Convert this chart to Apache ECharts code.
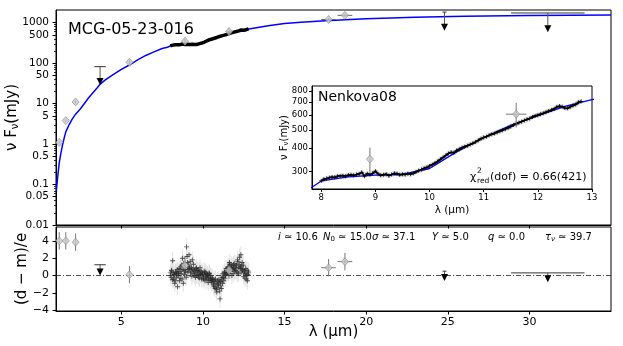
<!DOCTYPE html>
<html>
<head>
<meta charset="utf-8">
<script src="https://cdn.jsdelivr.net/npm/echarts@6/dist/echarts.min.js"></script>
<style>html,body{margin:0;background:#fff}#c{width:623px;height:346px}</style>
</head>
<body>
<div id="c"></div>
<script>
// model SED (blue line), lambda in micron, nuFnu in mJy
var modelX = [1.02,1.1,1.2,1.3,1.4,1.5,1.6,1.8,2.0,2.2,2.5,3.0,3.5,3.7,4.0,4.5,5.0,5.5,6.0,6.5,7.0,7.5,7.83,8.0,8.5,9.0,9.5,10.0,10.5,11.0,11.5,12.0,12.5,13.0,14,15,16,17.5,20,23,26,30,35];
var modelY = [0.07,0.15,0.35,0.6,0.95,1.4,2.0,3.0,4.2,5.5,7.5,14,24,30,38,52,70,90,120,155,190,230,248,268,282,288,290,312,382,455,528,595,666,722,840,950,1030,1120,1250,1370,1440,1510,1560];

// IRS spectrum
var specX = [8.00,8.05,8.10,8.15,8.20,8.25,8.30,8.35,8.40,8.45,8.50,8.55,8.60,8.65,8.70,8.75,8.80,8.85,8.90,8.95,
  9.00,9.05,9.10,9.15,9.20,9.25,9.30,9.35,9.40,9.45,9.50,9.55,9.60,9.65,9.70,9.75,9.80,9.85,9.90,9.95,
  10.00,10.05,10.10,10.15,10.20,10.25,10.30,10.35,10.40,10.45,10.50,10.55,10.60,10.65,10.70,10.75,10.80,10.85,10.90,10.95,
  11.00,11.05,11.10,11.15,11.20,11.25,11.30,11.35,11.40,11.45,11.50,11.55,11.60,11.65,11.70,11.75,11.80,11.85,11.90,11.95,
  12.00,12.05,12.10,12.15,12.20,12.25,12.30,12.35,12.40,12.45,12.50,12.55,12.60,12.65,12.70,12.75,12.80];
var specY = [268,274,276,279,281,280,284,285,286,284,288,289,287,290,292,298,284,293,290,294,
  302,292,287,289,291,286,290,294,293,289,291,290,293,291,294,299,304,308,313,316,
  322,327,333,340,349,357,366,375,380,378,388,395,402,407,412,418,424,431,440,448,
  455,460,468,474,478,486,492,498,505,512,520,530,538,545,552,560,568,574,585,592,
  598,605,612,620,628,636,645,660,668,662,652,650,662,672,680,700,708];

// residuals of the spectrum, two interleaved sets
var resYA = [0.3,-0.2,0.5,1.7,-0.4,0.1,-0.6,0.2,0.4,-1.3,
  0.2,0.8,-0.3,0.5,1.2,2.0,-0.9,0.6,1.1,0.4,
  3.3,1.5,0.7,2.4,1.0,0.3,0.9,1.8,0.2,0.6,
  0.5,-0.2,0.9,0.4,0.1,0.6,-0.3,0.2,0.5,0.0,
  0.1,-0.4,0.3,-0.1,0.2,-0.5,0.0,-0.3,0.2,-0.6,
  -0.2,-0.8,-0.5,-1.2,-0.7,-1.5,-0.9,-1.9,-0.6,-1.1,
  -0.8,-2.7,-1.2,-0.4,-0.9,-0.2,0.3,-0.3,0.1,0.6,
  0.4,1.0,0.7,1.3,0.5,0.9,1.1,0.2,0.8,1.4,
  0.6,1.2,0.3,1.6,0.9,2.1,1.0,0.4,1.5,0.7,
  -0.1,0.5,0.2,-0.4,0.6,0.1,0.3];
var resXB = [8.025,8.075,8.125,8.175,8.225,8.275,8.325,8.375,8.425,8.475,
  8.525,8.575,8.625,8.675,8.725,8.775,8.825,8.875,8.925,8.975,
  9.025,9.075,9.125,9.175,9.225,9.275,9.325,9.375,9.425,9.475,
  9.525,9.575,9.625,9.675,9.725,9.775,9.825,9.875,9.925,9.975,
  10.025,10.075,10.125,10.175,10.225,10.275,10.325,10.375,10.425,10.475,
  10.525,10.575,10.625,10.675,10.725,10.775,10.825,10.875,10.925,10.975,
  11.025,11.075,11.125,11.175,11.225,11.275,11.325,11.375,11.425,11.475,
  11.525,11.575,11.625,11.675,11.725,11.775,11.825,11.875,11.925,11.975,
  12.025,12.075,12.125,12.175,12.225,12.275,12.325,12.375,12.425,12.475,
  12.525,12.575,12.625,12.675,12.725,12.775];
var resYB = [0.0,0.6,-0.5,0.3,0.1,-0.9,0.4,-0.2,0.7,0.0,
  0.4,-0.6,1.0,0.2,-0.4,0.7,1.4,0.1,0.9,-0.2,
  2.2,0.4,1.2,0.8,1.6,0.5,-0.1,0.7,1.3,0.0,
  0.3,0.8,0.0,0.6,-0.2,0.4,0.9,0.1,-0.4,0.3,
  -0.3,0.5,-0.6,0.4,-0.2,0.1,-0.8,0.3,-0.4,0.0,
  -0.6,-0.3,-1.0,-0.5,-1.3,-0.4,-1.6,-1.0,-1.4,-0.5,
  -1.8,-0.7,-1.5,-0.2,0.2,-0.6,0.4,0.0,0.8,0.3,
  0.9,0.2,1.5,0.6,1.2,0.0,0.7,1.3,0.5,0.9,
  1.1,0.5,1.8,0.2,1.3,0.8,2.4,1.1,0.6,1.2,
  0.3,-0.3,0.8,0.0,-0.6,0.5];

// photometry (grey diamonds)
var phX = [1.2,1.6,2.2,5.5,8.9,11.6,17.7,18.7];
var phY = [1.1,3.8,11,105,350,605,1200,1520];
var phYerr = [0.1,0.3,0.9,18,52,90,110,140];
var phXerr = [0,0,0,0,0,0.19,0.45,0.45];
var resPhY = [4.0,4.0,3.85,0.1,1.15,0.6,0.9,1.6];

// upper limits
var ulX = [3.7,24.8,31.13];
var ulTop = [82,1830,1740];
var ulTip = [29,630,580];
var ulXerr = [0.35,0.12,2.25];
var resUlTop = [1.24,0.5,0.3];
var resUlTip = [0.0,-0.65,-0.77];

// ticks
var xTicks = [5,10,15,20,25,30];
var mainTicks = [0.01,0.05,0.1,0.5,1,5,10,50,100,500,1000];
var mainTickLabels = ['0.01','0.05','0.1','0.5','1','5','10','50','100','500','1000'];
var resTicks = [-4,-2,0,2,4];
var insetXTicks = [8,9,10,11,12,13];
var insetYTicks = [300,400,500,600,700,800];

var lg = Math.log10;
var FONT = 'DejaVu Sans';
var plusSym = 'path://M-1,-0.18H1V0.18H-1Z M-0.18,-1H0.18V1H-0.18Z';

var minorTicks = [];
[0.01,0.1,1,10,100,1000].forEach(function(d) {
  [2,3,4,6,7,8,9].forEach(function(k) { if (k * d < 2000) minorTicks.push(lg(k * d)); });
});

function line(a, b, color, w) {
  return { type: 'line', shape: { x1: a[0], y1: a[1], x2: b[0], y2: b[1] }, style: { stroke: color, lineWidth: w } };
}
// item: [x, y, xlo, xhi, ylo, yhi]
function errRender(color, w) {
  return function(params, api) {
    var x = api.value(0), y = api.value(1);
    var ch = [];
    if (api.value(4) !== api.value(5)) ch.push(line(api.coord([x, api.value(4)]), api.coord([x, api.value(5)]), color, w));
    if (api.value(2) !== api.value(3)) ch.push(line(api.coord([api.value(2), y]), api.coord([api.value(3), y]), color, w));
    return { type: 'group', children: ch };
  };
}
// item: [x, top, tip, xerr]
function ulRender(params, api) {
  var x = api.value(0), e = api.value(3);
  var top = api.coord([x, api.value(1)]), tip = api.coord([x, api.value(2)]);
  var l = api.coord([x - e, api.value(1)]), r = api.coord([x + e, api.value(1)]);
  return { type: 'group', children: [
    line(top, [tip[0], tip[1] - 6], '#555', 1),
    line(l, r, '#333', 1),
    { type: 'polygon', shape: { points: [[tip[0] - 3.5, tip[1] - 7], [tip[0] + 3.5, tip[1] - 7], [tip[0], tip[1]]] }, style: { fill: '#000' } }
  ] };
}

var mainErr = phX.map(function(x, i) {
  return [x, lg(phY[i]), x - phXerr[i], x + phXerr[i], lg(phY[i] - phYerr[i]), lg(phY[i] + phYerr[i])];
});
var resErr = phX.map(function(x, i) {
  return [x, resPhY[i], x - phXerr[i], x + phXerr[i], resPhY[i] - 1, resPhY[i] + 1];
});
var insetIdx = [4, 5];
var insetErr = insetIdx.map(function(i) {
  return [phX[i], lg(phY[i]), phX[i] - phXerr[i], phX[i] + phXerr[i], lg(phY[i] - phYerr[i]), lg(phY[i] + phYerr[i])];
});
var specErrA = specX.map(function(x, i) { return [x, resYA[i], x, x, resYA[i] - 1, resYA[i] + 1]; });
var specErrB = resXB.map(function(x, i) { return [x, resYB[i], x, x, resYB[i] - 1, resYB[i] + 1]; });

var modelLog = modelX.map(function(x, i) { return [x, lg(modelY[i])]; });
var specLog = specX.map(function(x, i) { return [x, lg(specY[i])]; });

var axisBase = {
  axisLine: { onZero: false, lineStyle: { color: '#000', width: 1 } },
  splitLine: { show: false },
  axisTick: { lineStyle: { color: '#000' } },
  nameMoveOverlap: false
};
function ax(o) { return Object.assign({}, JSON.parse(JSON.stringify(axisBase)), o); }

var chart = echarts.init(document.getElementById('c'));
chart.setOption({
  animation: false,
  backgroundColor: '#fff',
  textStyle: { fontFamily: FONT },
  grid: [
    { left: 56, top: 10, width: 555, height: 215, show: true, borderColor: '#000', borderWidth: 1,
      backgroundColor: 'transparent', containLabel: false, outerBoundsMode: 'none' },
    { left: 56, top: 227, width: 555, height: 84, show: true, borderColor: '#000', borderWidth: 1,
      backgroundColor: 'transparent', containLabel: false, outerBoundsMode: 'none' },
    { left: 312, top: 86, width: 280, height: 103, show: true, borderColor: '#000', borderWidth: 1,
      backgroundColor: '#fff', z: 4, containLabel: false, outerBoundsMode: 'none' }
  ],
  xAxis: [
    ax({ gridIndex: 0, type: 'value', min: 1, max: 35,
      axisTick: { customValues: xTicks, length: 3.5, lineStyle: { color: '#000' } },
      axisLabel: { show: false } }),
    ax({ gridIndex: 1, type: 'value', min: 1, max: 35,
      axisTick: { customValues: xTicks, length: 3.5, lineStyle: { color: '#000' } },
      axisLabel: { customValues: xTicks, fontSize: 11, color: '#000', margin: 6, fontFamily: FONT },
      name: 'λ (μm)', nameLocation: 'middle', nameGap: 14,
      nameTextStyle: { fontSize: 15, color: '#000', fontFamily: FONT, verticalAlign: 'top' } }),
    ax({ gridIndex: 2, type: 'value', min: 7.83, max: 13, z: 5,
      axisTick: { customValues: insetXTicks, length: 3, lineStyle: { color: '#000' } },
      axisLabel: { customValues: insetXTicks, fontSize: 8.5, color: '#000', margin: 4, fontFamily: FONT },
      name: 'λ (μm)', nameLocation: 'middle', nameGap: 16,
      nameTextStyle: { fontSize: 10.5, color: '#000', fontFamily: FONT, verticalAlign: 'top' } })
  ],
  yAxis: [
    ax({ gridIndex: 0, type: 'value', min: -2, max: 3.314, position: 'left',
      axisTick: { customValues: mainTicks.map(lg), length: 3.5, lineStyle: { color: '#000' } },
      axisLabel: { customValues: mainTicks.map(lg), fontSize: 10.5, color: '#000', margin: 7, fontFamily: FONT,
        formatter: function(v) {
          var best = 0;
          mainTicks.forEach(function(t, i) { if (Math.abs(lg(t) - v) < Math.abs(lg(mainTicks[best]) - v)) best = i; });
          return mainTickLabels[best];
        } },
      name: 'ν F{s|ν}(mJy)', nameLocation: 'middle', nameGap: 36,
      nameTextStyle: { fontSize: 15, color: '#000', fontFamily: FONT,
        rich: { s: { fontSize: 10, fontFamily: FONT, color: '#000', padding: [6, 0, 0, 0] } } } }),
    ax({ gridIndex: 0, type: 'value', min: -2, max: 3.314, position: 'left', offset: 0,
      axisLine: { show: false },
      axisTick: { customValues: minorTicks, length: 2, lineStyle: { color: '#000', width: 0.8 } },
      axisLabel: { show: false } }),
    ax({ gridIndex: 1, type: 'value', min: -4.1, max: 5.6,
      axisTick: { customValues: resTicks, length: 3.5, lineStyle: { color: '#000' } },
      axisLabel: { customValues: resTicks, fontSize: 11, color: '#000', margin: 7, fontFamily: FONT,
        formatter: function(v) { return v < 0 ? '\u2212' + Math.abs(v) : String(v); } },
      name: '(d \u2212 m)/e', nameLocation: 'middle', nameGap: 26,
      nameTextStyle: { fontSize: 15, color: '#000', fontFamily: FONT } }),
    ax({ gridIndex: 2, type: 'value', min: lg(243), max: lg(853), z: 5,
      axisTick: { customValues: insetYTicks.map(lg), length: 3, lineStyle: { color: '#000' } },
      axisLabel: { customValues: insetYTicks.map(lg), fontSize: 8.5, color: '#000', margin: 4, fontFamily: FONT,
        formatter: function(v) { return String(Math.round(Math.pow(10, v) / 100) * 100); } },
      name: 'ν F{s|ν}(mJy)', nameLocation: 'middle', nameGap: 22,
      nameTextStyle: { fontSize: 10, color: '#000', fontFamily: FONT,
        rich: { s: { fontSize: 7, fontFamily: FONT, color: '#000', padding: [4, 0, 0, 0] } } } })
  ],
  series: [
    // main panel
    { type: 'line', xAxisIndex: 0, yAxisIndex: 0, data: modelLog, showSymbol: false, symbol: 'none',
      lineStyle: { color: '#0000ff', width: 1.5 }, z: 2 },
    { type: 'line', xAxisIndex: 0, yAxisIndex: 0, data: specLog, symbol: 'none',
      lineStyle: { color: '#000', width: 3.5 }, z: 3 },
    { type: 'custom', xAxisIndex: 0, yAxisIndex: 0, data: mainErr, renderItem: errRender('#666', 1),
      encode: { x: 0, y: 1 }, z: 3 },
    { type: 'scatter', xAxisIndex: 0, yAxisIndex: 0, data: mainErr.map(function(d) { return [d[0], d[1]]; }),
      symbol: 'diamond', symbolSize: [7, 8], itemStyle: { color: '#c8c8c8', borderColor: '#8a8a8a', borderWidth: 0.8 }, z: 4 },
    { type: 'custom', xAxisIndex: 0, yAxisIndex: 0,
      data: ulX.map(function(x, i) { return [x, lg(ulTop[i]), lg(ulTip[i]), ulXerr[i]]; }),
      renderItem: ulRender, encode: { x: 0, y: 1 }, z: 4 },

    // residual panel
    { type: 'line', xAxisIndex: 1, yAxisIndex: 2, data: [[1, 0], [35, 0]], symbol: 'none',
      lineStyle: { color: '#222', width: 0.8, type: [5, 2, 1, 2] }, z: 2 },
    { type: 'custom', xAxisIndex: 1, yAxisIndex: 2, data: specErrA.concat(specErrB), renderItem: errRender('#e3e3e3', 1),
      encode: { x: 0, y: 1 }, z: 1 },
    { type: 'scatter', xAxisIndex: 1, yAxisIndex: 2,
      data: specX.map(function(x, i) { return [x, resYA[i]]; }).concat(resXB.map(function(x, i) { return [x, resYB[i]]; })),
      symbol: plusSym, symbolSize: 5, itemStyle: { color: '#222' }, z: 3 },
    { type: 'custom', xAxisIndex: 1, yAxisIndex: 2, data: resErr, renderItem: errRender('#777', 1),
      encode: { x: 0, y: 1 }, z: 3 },
    { type: 'scatter', xAxisIndex: 1, yAxisIndex: 2, data: resErr.map(function(d) { return [d[0], d[1]]; }),
      symbol: 'diamond', symbolSize: [7, 8], itemStyle: { color: '#c8c8c8', borderColor: '#8a8a8a', borderWidth: 0.8 }, z: 4 },
    { type: 'custom', xAxisIndex: 1, yAxisIndex: 2,
      data: ulX.map(function(x, i) { return [x, resUlTop[i], resUlTip[i], ulXerr[i]]; }),
      renderItem: ulRender, encode: { x: 0, y: 1 }, z: 4 },

    // inset
    { type: 'line', xAxisIndex: 2, yAxisIndex: 3, data: specLog, symbol: 'none',
      lineStyle: { color: '#dedede', width: 5 }, z: 6 },
    { type: 'line', xAxisIndex: 2, yAxisIndex: 3, data: modelLog, symbol: 'none', clip: true,
      lineStyle: { color: '#0000ff', width: 1.3 }, z: 7 },
    { type: 'line', xAxisIndex: 2, yAxisIndex: 3, data: specLog, symbol: plusSym, symbolSize: 4, showSymbol: true,
      itemStyle: { color: '#000' }, lineStyle: { color: '#000', width: 1.8 }, z: 8 },
    { type: 'custom', xAxisIndex: 2, yAxisIndex: 3, data: insetErr, renderItem: errRender('#777', 1),
      encode: { x: 0, y: 1 }, z: 9 },
    { type: 'scatter', xAxisIndex: 2, yAxisIndex: 3, data: insetErr.map(function(d) { return [d[0], d[1]]; }),
      symbol: 'diamond', symbolSize: [7, 8], itemStyle: { color: '#c8c8c8', borderColor: '#8a8a8a', borderWidth: 0.8 }, z: 10 }
  ],
  graphic: [
    { type: 'text', z: 20, style: { x: 68, y: 30, text: 'MCG-05-23-016', fontSize: 16, fontFamily: FONT, fill: '#000', verticalAlign: 'middle' } },
    { type: 'text', z: 20, style: { x: 318, y: 97, text: 'Nenkova08', fontSize: 14, fontFamily: FONT, fill: '#000', verticalAlign: 'middle' } },
    { type: 'text', z: 20, style: { x: 470, y: 177, text: 'χ', fontSize: 11, fontFamily: FONT, fill: '#000', verticalAlign: 'middle' } },
    { type: 'text', z: 20, style: { x: 477, y: 171.5, text: '2', fontSize: 7.5, fontFamily: FONT, fill: '#000', verticalAlign: 'middle' } },
    { type: 'text', z: 20, style: { x: 477, y: 181, text: 'red', fontSize: 7.5, fontFamily: FONT, fill: '#000', verticalAlign: 'middle' } },
    { type: 'text', z: 20, style: { x: 490, y: 177, text: '(dof) = 0.66(421)', fontSize: 11, fontFamily: FONT, fill: '#000', verticalAlign: 'middle' } },
    { type: 'text', z: 20, style: { x: 278, y: 237, text: '{i|i} ≃ 10.6', fontSize: 10, fontFamily: FONT, fill: '#000', verticalAlign: 'middle',
      rich: { i: { fontStyle: 'italic', fontSize: 10, fontFamily: FONT } } } },
    { type: 'text', z: 20, style: { x: 323, y: 237, text: '{i|N}{s|0} ≃ 15.0{i|σ} ≃ 37.1', fontSize: 10, fontFamily: FONT, fill: '#000', verticalAlign: 'middle',
      rich: { i: { fontStyle: 'italic', fontSize: 10, fontFamily: FONT }, s: { fontSize: 7, fontFamily: FONT, padding: [4, 0, 0, 0] } } } },
    { type: 'text', z: 20, style: { x: 432, y: 237, text: '{i|Y} ≃ 5.0', fontSize: 10, fontFamily: FONT, fill: '#000', verticalAlign: 'middle',
      rich: { i: { fontStyle: 'italic', fontSize: 10, fontFamily: FONT } } } },
    { type: 'text', z: 20, style: { x: 488, y: 237, text: '{i|q} ≃ 0.0', fontSize: 10, fontFamily: FONT, fill: '#000', verticalAlign: 'middle',
      rich: { i: { fontStyle: 'italic', fontSize: 10, fontFamily: FONT } } } },
    { type: 'text', z: 20, style: { x: 545, y: 237, text: '{i|τ}{s|ν} ≃ 39.7', fontSize: 10, fontFamily: FONT, fill: '#000', verticalAlign: 'middle',
      rich: { i: { fontStyle: 'italic', fontSize: 10, fontFamily: FONT }, s: { fontStyle: 'italic', fontSize: 7, fontFamily: FONT, padding: [4, 0, 0, 0] } } } }
  ]
});
window.addEventListener('resize', function() { chart.resize(); });
</script>
</body>
</html>
